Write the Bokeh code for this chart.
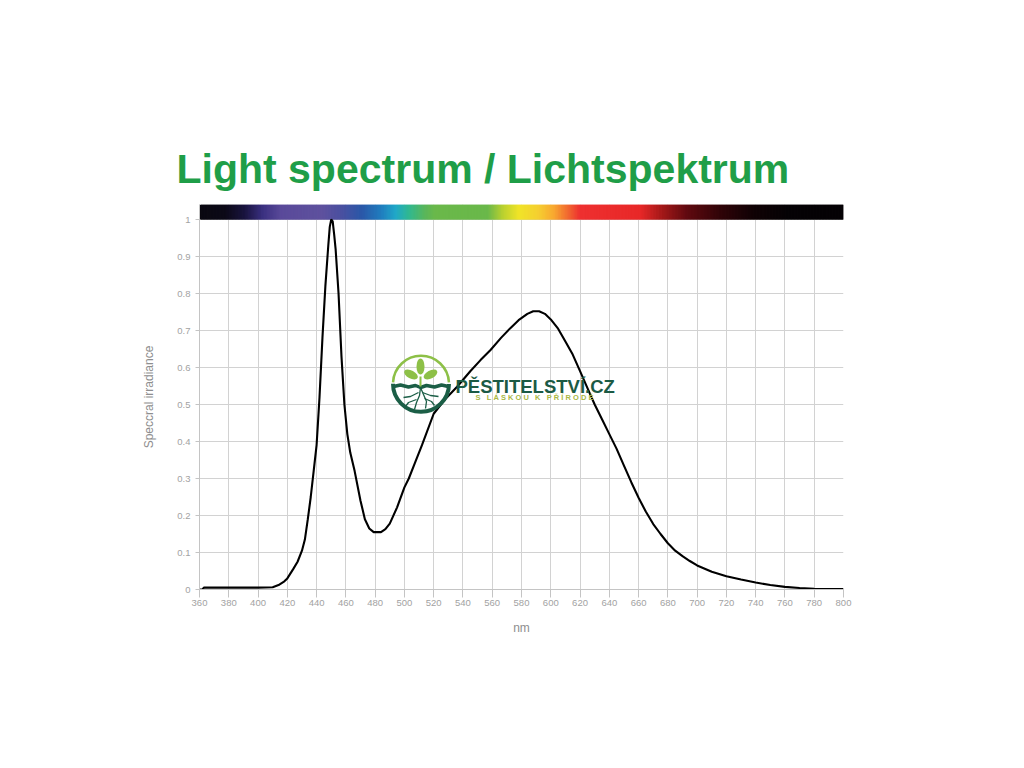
from bokeh.plotting import figure
from bokeh.models import Range1d, FixedTicker, Label, ColumnDataSource
from bokeh.embed import file_html
from bokeh.resources import INLINE

# ---------------- data ----------------
wavelength = [360, 362, 363, 380, 400, 410, 414, 418, 420, 424, 427, 430, 432, 434, 436, 438,
              440, 442, 444, 446, 448, 449, 450, 451, 452, 453, 455, 457, 459, 461, 463, 466,
              470, 473, 476, 479, 484, 487, 490, 495, 500, 503, 507, 512, 520, 528, 536, 545,
              552, 559, 566, 572, 578, 584, 588, 592, 596, 600, 605, 610, 615, 620, 625, 630,
              635, 640, 645, 650, 655, 660, 665, 670, 675, 680, 685, 690, 695, 700, 710, 720,
              730, 740, 750, 760, 770, 780, 790, 800]
irradiance = [0.0, 0.0, 0.005, 0.005, 0.005, 0.006, 0.012, 0.022, 0.03, 0.055, 0.075, 0.105, 0.135, 0.19, 0.25, 0.32,
              0.39, 0.52, 0.68, 0.82, 0.93, 0.98, 1.0, 0.995, 0.96, 0.92, 0.80, 0.63, 0.50, 0.42, 0.37, 0.32,
              0.24, 0.19, 0.165, 0.155, 0.155, 0.163, 0.178, 0.222, 0.276, 0.30, 0.34, 0.39, 0.475, 0.515, 0.548, 0.59,
              0.62, 0.648, 0.68, 0.705, 0.728, 0.745, 0.752, 0.752, 0.745, 0.73, 0.705, 0.67, 0.635, 0.59, 0.545, 0.50,
              0.46, 0.42, 0.38, 0.335, 0.29, 0.248, 0.21, 0.177, 0.15, 0.125, 0.105, 0.09, 0.077, 0.065, 0.048, 0.036,
              0.027, 0.019, 0.012, 0.007, 0.004, 0.002, 0.001, 0.001]

x_ticks = [360, 380, 400, 420, 440, 460, 480, 500, 520, 540, 560, 580, 600, 620, 640, 660, 680,
           700, 720, 740, 760, 780, 800]
y_ticks = [0, 0.1, 0.2, 0.3, 0.4, 0.5, 0.6, 0.7, 0.8, 0.9, 1.0]
y_tick_labels = ["0", "0.1", "0.2", "0.3", "0.4", "0.5", "0.6", "0.7", "0.8", "0.9", "1"]

# spectrum colour bar stops (nm, colour)
bar_stop_nm = [360, 378, 391, 403, 416, 444, 457, 471, 485, 494, 503, 514, 521, 557, 567, 578,
               591, 602, 613, 620, 661, 677, 693, 716, 738, 762, 800]
bar_stop_col = ["#0a0810", "#0c0a18", "#1a1440", "#3a3080", "#5a4a9a", "#5e519e", "#4a50a0",
                "#2a58a8", "#2080c0", "#20a8c8", "#30b890", "#5ab65a", "#6ab84a", "#6ab84a",
                "#b8d030", "#f0e428", "#f5d030", "#f8a830", "#f06030", "#ee3030", "#e82828",
                "#a01818", "#600a10", "#300408", "#100205", "#050205", "#050205"]

TITLE = "Light spectrum / Lichtspektrum"

# ---------------- figure ----------------
X0, X1 = 360, 800
FRAME_L, FRAME_T = 199, 204
FRAME_W, FRAME_H = 644, 385
PX_PER_UNIT = 370.0
BAR_TOP = 1.0 + (FRAME_H - PX_PER_UNIT) / PX_PER_UNIT
FIG_W, FIG_H = 1000, 740

p = figure(width=FIG_W, height=FIG_H, output_backend="svg", toolbar_location=None,
           x_range=Range1d(X0, X1), y_range=Range1d(0, BAR_TOP),
           min_border_left=FRAME_L, min_border_right=FIG_W - FRAME_L - FRAME_W,
           min_border_top=FRAME_T, min_border_bottom=FIG_H - FRAME_T - FRAME_H)
p.outline_line_color = None
p.background_fill_color = "white"

# title
p.title.text = TITLE
p.title.align = "left"
p.title.offset = 176 - FRAME_L
p.title.standoff = 25
p.title.text_font = "Liberation Sans"
p.title.text_font_style = "bold"
p.title.text_font_size = "41px"
p.title.text_color = "#1f9e48"

# helpers for decoration placement (page pixel -> data)
sx = FRAME_W / (X1 - X0)
def px2x(px):
    return X0 + (px - FRAME_L) / sx
def py2y(py):
    return (FRAME_T + FRAME_H - py) / PX_PER_UNIT

# grid
for g in (p.xgrid, p.ygrid):
    g.grid_line_color = "#d2d2d2"
    g.grid_line_width = 1
p.xgrid.ticker = FixedTicker(ticks=x_ticks)
p.ygrid.ticker = FixedTicker(ticks=y_ticks)

# axes
p.xaxis.ticker = FixedTicker(ticks=x_ticks)
p.yaxis.ticker = FixedTicker(ticks=y_ticks)
p.yaxis.major_label_overrides = {t: l for t, l in zip(y_ticks, y_tick_labels)}
for ax in (p.xaxis[0], p.yaxis[0]):
    ax.axis_line_color = "#c4c4c4"
    ax.major_tick_line_color = "#c4c4c4"
    ax.minor_tick_line_color = None
    ax.major_tick_in = 0
    ax.major_label_text_font = "Liberation Sans"
    ax.major_label_text_font_size = "9.5px"
    ax.major_label_text_color = "#a2a2a2"
    ax.axis_label_text_font = "Liberation Sans"
    ax.axis_label_text_font_style = "normal"
    ax.axis_label_text_font_size = "12px"
    ax.axis_label_text_color = "#8e8e8e"
p.xaxis.major_tick_out = 8
p.xaxis.major_label_standoff = 2
p.yaxis.major_tick_out = 4
p.yaxis.major_label_standoff = 5
p.xaxis.axis_label = "nm"
p.xaxis.axis_label_standoff = 12
p.yaxis.axis_label = "Speccral irradiance"
p.yaxis.axis_label_standoff = 18

# colour bar (1 nm slices blended between stops, overlapping to hide seams)
def hex2rgb(h):
    h = h.lstrip("#")
    return tuple(int(h[i:i + 2], 16) for i in (0, 2, 4))

lefts, rights, cols = [], [], []
for i in range(len(bar_stop_nm) - 1):
    a, b = bar_stop_nm[i], bar_stop_nm[i + 1]
    ca, cb = hex2rgb(bar_stop_col[i]), hex2rgb(bar_stop_col[i + 1])
    n = b - a
    for k in range(n):
        t = (k + 0.5) / n
        c = tuple(int(round(ca[j] + (cb[j] - ca[j]) * t)) for j in range(3))
        lefts.append(a + k)
        rights.append(min(a + k + 2, X1))
        cols.append("#%02x%02x%02x" % c)
bar_src = ColumnDataSource(dict(left=lefts, right=rights, color=cols))
p.quad(left="left", right="right", bottom=1.0, top=BAR_TOP, color="color",
       line_color=None, source=bar_src)

# spectrum curve
p.line(wavelength, irradiance, line_color="black", line_width=2.1)

# ---------------- watermark logo ----------------
cx, cy = px2x(420.5), py2y(383.3)
p.arc(x=[cx], y=[cy], radius=28, radius_units="screen", start_angle=0.05, end_angle=3.09,
      direction="anticlock", line_color="#8dc047", line_width=2.5)
p.arc(x=[cx], y=[cy], radius=28, radius_units="screen", start_angle=3.14, end_angle=6.28,
      direction="anticlock", line_color="#1b5e46", line_width=4)
# ground line
gx = [px2x(v) for v in [393, 400, 408, 415, 420, 426, 434, 441, 448]]
gy = [py2y(v) for v in [386, 384.5, 386.5, 385, 387, 385, 386.5, 384.5, 386]]
p.line(gx, gy, line_color="#1b5e46", line_width=3.5)
# roots
roots = [
    ([420, 419, 416, 414], [387, 395, 402, 409]),
    ([420, 423, 426, 425], [387, 394, 401, 408]),
    ([418, 410, 403], [392, 396, 397]),
    ([422, 430, 438], [392, 395, 396]),
    ([416, 408, 405], [399, 402, 406]),
    ([424, 431, 434], [398, 401, 405]),
]
for rx, ry in roots:
    p.line([px2x(v) for v in rx], [py2y(v) for v in ry], line_color="#1b5e46", line_width=1.3)
# stem and leaves
p.line([px2x(420), px2x(420)], [py2y(376), py2y(386)], line_color="#8dc047", line_width=2)
p.ellipse(x=[px2x(420), px2x(410.5), px2x(430)], y=[py2y(366), py2y(374), py2y(374)],
          width=[8, 15, 15], height=[16, 8, 8], width_units="screen", height_units="screen",
          angle=[0, -0.5, 0.5], fill_color="#8dc047", line_color=None)
p.add_layout(Label(x=px2x(455), y=py2y(385.5), text="PĚSTITELSTVÍ.CZ",
                   text_font="Liberation Sans", text_font_style="bold",
                   text_font_size="18.5px", text_color="#1b5a44", text_baseline="alphabetic"))
NB = "\u00a0"
sub = (NB * 3).join(NB.join(list(w)) for w in ["S", "LÁSKOU", "K", "PŘÍRODĚ"])
p.add_layout(Label(x=px2x(475), y=py2y(397), text=sub,
                   text_font="Liberation Sans", text_font_style="bold",
                   text_font_size="7.5px", text_color="#a9b843", text_baseline="alphabetic"))

open("out.html", "w").write(file_html(p, INLINE))
